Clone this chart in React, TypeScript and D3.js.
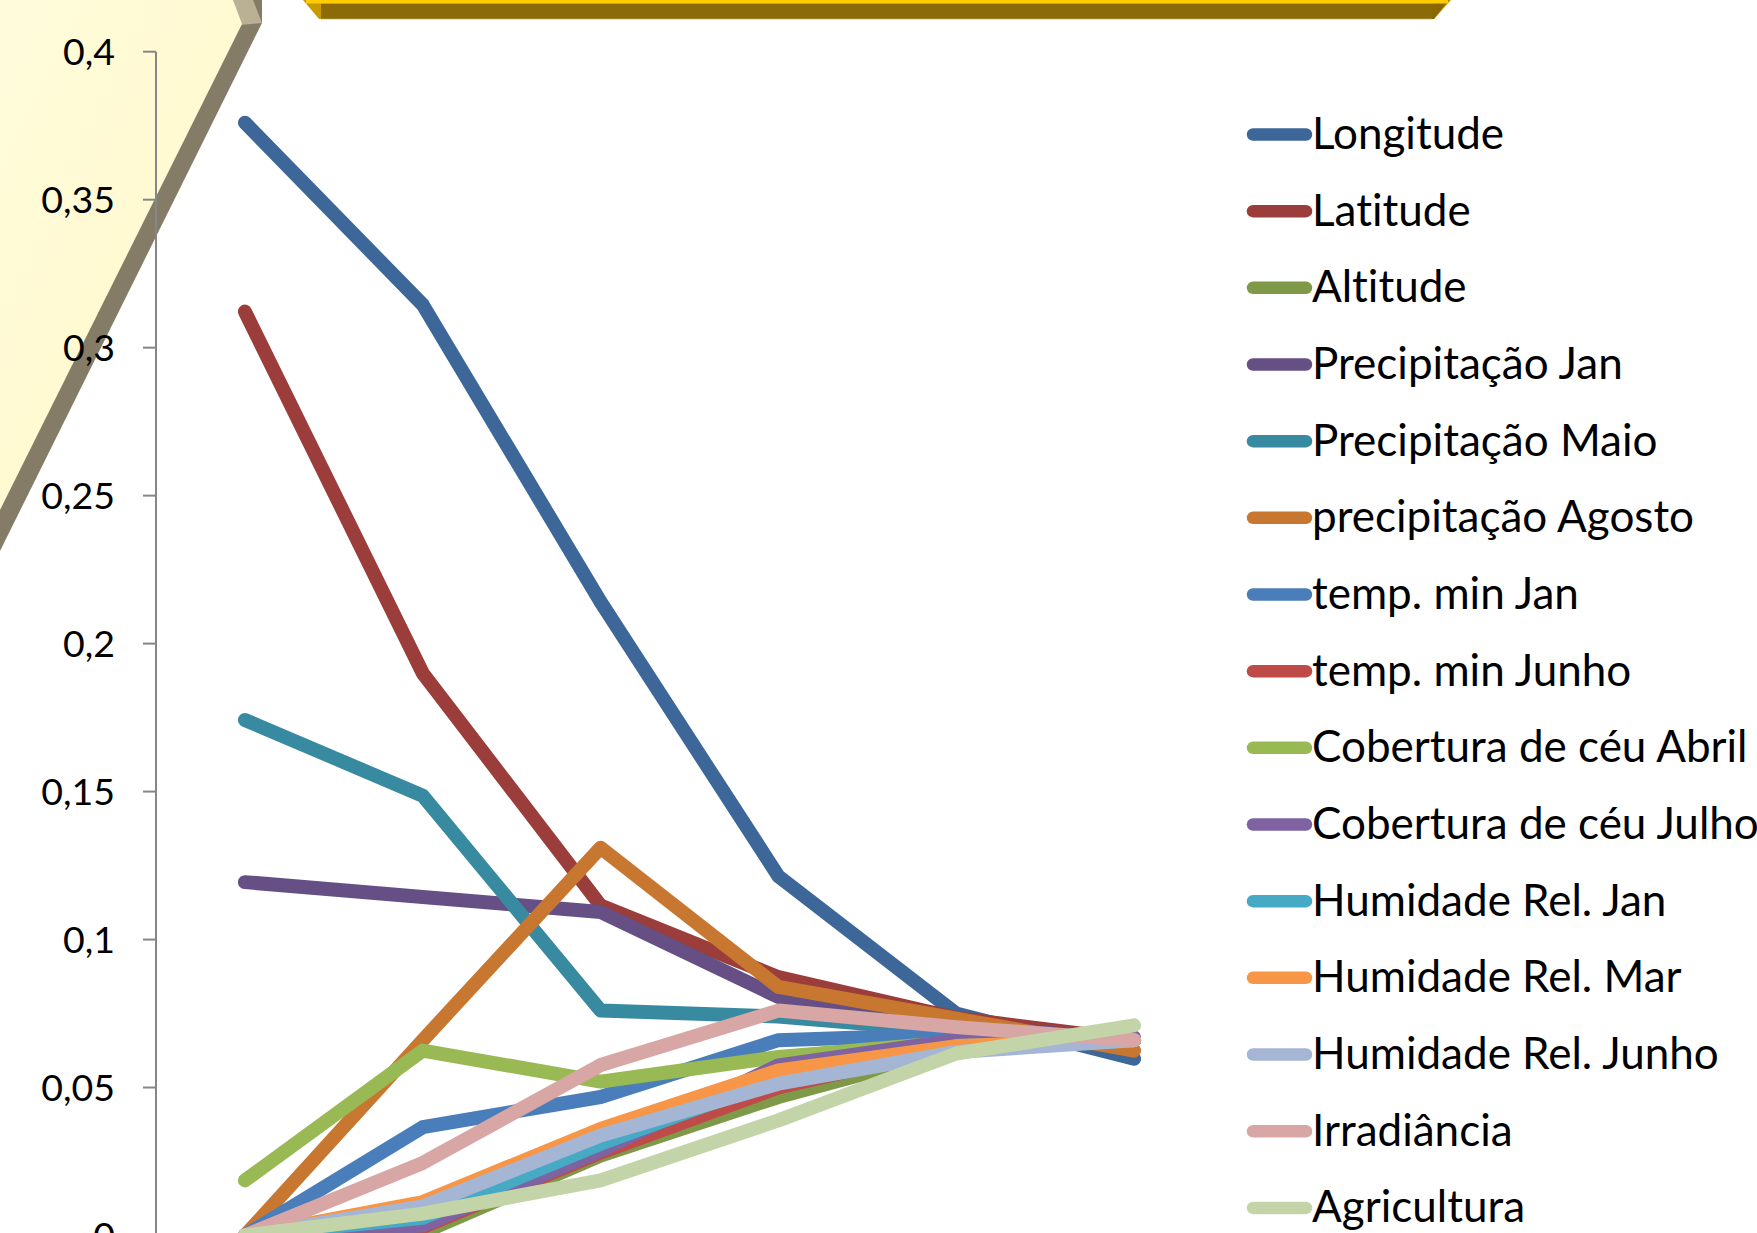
import React from "react";
import * as d3 from "d3";

// Category positions along the x axis (unlabelled steps)
const categories = ["1", "2", "3", "4", "5", "6"];

// Series names, in drawing order
const seriesNames = [
  "Longitude",
  "Latitude",
  "Altitude",
  "Precipitação Jan",
  "Precipitação Maio",
  "precipitação Agosto",
  "temp. min Jan",
  "temp. min Junho",
  "Cobertura de céu Abril",
  "Cobertura de céu Julho",
  "Humidade Rel. Jan",
  "Humidade Rel. Mar",
  "Humidade Rel. Junho",
  "Irradiância",
  "Agricultura",
];

const seriesColors = [
  "#3D6799",
  "#9B3D3A",
  "#7E9A48",
  "#664F84",
  "#378A9F",
  "#C87731",
  "#4A7EBB",
  "#BE4B48",
  "#98B954",
  "#7E62A1",
  "#46AAC5",
  "#F79646",
  "#A5B6D4",
  "#D7A6A5",
  "#C3D4A8",
];

// Values per series, one per category
const longitude = [0.376, 0.3145, 0.2141, 0.1214, 0.075, 0.0597];
const latitude = [0.3122, 0.19, 0.1115, 0.0873, 0.0735, 0.066];
const altitude = [0, 0.001, 0.027, 0.0468, 0.063, 0.066];
const precipJan = [0.1194, 0.1144, 0.1093, 0.0806, 0.071, 0.066];
const precipMaio = [0.1742, 0.1486, 0.076, 0.074, 0.069, 0.066];
const precipAgosto = [0, 0.066, 0.131, 0.084, 0.0733, 0.0625];
const tempMinJan = [0, 0.0366, 0.0468, 0.066, 0.068, 0.066];
const tempMinJunho = [0, 0.0028, 0.028, 0.05, 0.064, 0.066];
const coberturaAbril = [0.0186, 0.0625, 0.052, 0.0603, 0.0654, 0.066];
const coberturaJulho = [0, 0.0034, 0.0287, 0.0575, 0.066, 0.067];
const humidadeJan = [0, 0.006, 0.031, 0.053, 0.064, 0.066];
const humidadeMar = [0, 0.0113, 0.036, 0.0558, 0.064, 0.066];
const humidadeJunho = [0, 0.0098, 0.0338, 0.0513, 0.062, 0.066];
const irradiancia = [0, 0.0245, 0.0576, 0.076, 0.0704, 0.066];
const agricultura = [0, 0.0074, 0.0186, 0.0389, 0.0615, 0.071];

const seriesValues = [
  longitude,
  latitude,
  altitude,
  precipJan,
  precipMaio,
  precipAgosto,
  tempMinJan,
  tempMinJunho,
  coberturaAbril,
  coberturaJulho,
  humidadeJan,
  humidadeMar,
  humidadeJunho,
  irradiancia,
  agricultura,
];

// Y axis tick values
const yTicks = [0, 0.05, 0.1, 0.15, 0.2, 0.25, 0.3, 0.35, 0.4];

const W = 1757;
const H = 1233;
const FONT = "Lato, 'Open Sans', sans-serif";
const textStyle = { fontVariantLigatures: "none" as const, fontFeatureSettings: "'liga' 0, 'clig' 0" };

const ptLocale = d3.formatLocale({
  decimal: ",",
  thousands: ".",
  grouping: [3],
  currency: ["", " €"],
});
const fmt = ptLocale.format(".2~f");

export default function App() {
  const x = d3.scaleBand<string>().domain(categories).range([156, 1223]).padding(0);
  const cx = (c: string) => (x(c) as number) + x.bandwidth() / 2;
  const y = d3.scaleLinear().domain([0, 0.4]).range([1235.5, 51.7]);

  const line = d3
    .line<number>()
    .x((_, i) => cx(categories[i]))
    .y((v) => y(v));

  const legendX0 = 1253;
  const legendX1 = 1306;
  const legendTop = 134.5;
  const legendStep = 76.67;

  return (
    <svg
      width={W}
      height={H}
      viewBox={`0 0 ${W} ${H}`}
      style={{ position: "absolute", left: 0, top: 0, display: "block", background: "#ffffff" }}
    >
      <defs>
        <linearGradient id="paleFill" x1="0" y1="0" x2="1" y2="1">
          <stop offset="0%" stopColor="#FFFCDC" />
          <stop offset="100%" stopColor="#FFF8C8" />
        </linearGradient>
      </defs>

      {/* pale chevron panel at the left */}
      <g>
        <polygon points="0,0 262,0 262,23 0,551" fill="#847C66" />
        <polygon points="253,0 262,23 240,25 233,0" fill="#BAB094" />
        <polygon points="0,0 233,0 242,24 0,510" fill="url(#paleFill)" />
      </g>

      {/* gold bar across the top */}
      <g>
        <polygon points="303,0 1451,0 1434,19 319,19" fill="#C99A00" />
        <polygon points="1432,3.5 1449,0 1434,19 1432,19" fill="#8A6A00" />
        <rect x={321} y={3.5} width={1111} height={15.5} fill="#8B6B08" />
        <rect x={306} y={0} width={1142} height={3.5} fill="#FFCC00" />
        <line x1={321} x2={1432} y1={19.3} y2={19.3} stroke="#E8D9A0" strokeWidth={1} />
      </g>

      {/* y axis */}
      <g>
        <line x1={156} x2={156} y1={y(0.4)} y2={H} stroke="#868686" strokeWidth={2} />
        {yTicks.map((t) => (
          <g key={t}>
            <line x1={143} x2={156} y1={y(t)} y2={y(t)} stroke="#868686" strokeWidth={2} />
            <text
              x={115}
              y={y(t) + 13}
              textAnchor="end"
              fontFamily={FONT}
              fontSize={37.5}
              fill="#000"
              style={textStyle}
            >
              {fmt(t)}
            </text>
          </g>
        ))}
      </g>

      {/* series lines */}
      <g fill="none" strokeLinejoin="round" strokeLinecap="round">
        {seriesValues.map((vals, i) => (
          <path key={seriesNames[i]} d={line(vals) ?? ""} stroke={seriesColors[i]} strokeWidth={14} />
        ))}
      </g>

      {/* legend */}
      <g>
        {seriesNames.map((name, i) => {
          const ly = legendTop + i * legendStep;
          return (
            <g key={name}>
              <line
                x1={legendX0}
                x2={legendX1}
                y1={ly}
                y2={ly}
                stroke={seriesColors[i]}
                strokeWidth={12.5}
                strokeLinecap="round"
              />
              <text x={1312} y={ly + 14.5} fontFamily={FONT} fontSize={44} fill="#000" style={textStyle}>
                {name}
              </text>
            </g>
          );
        })}
      </g>
    </svg>
  );
}
